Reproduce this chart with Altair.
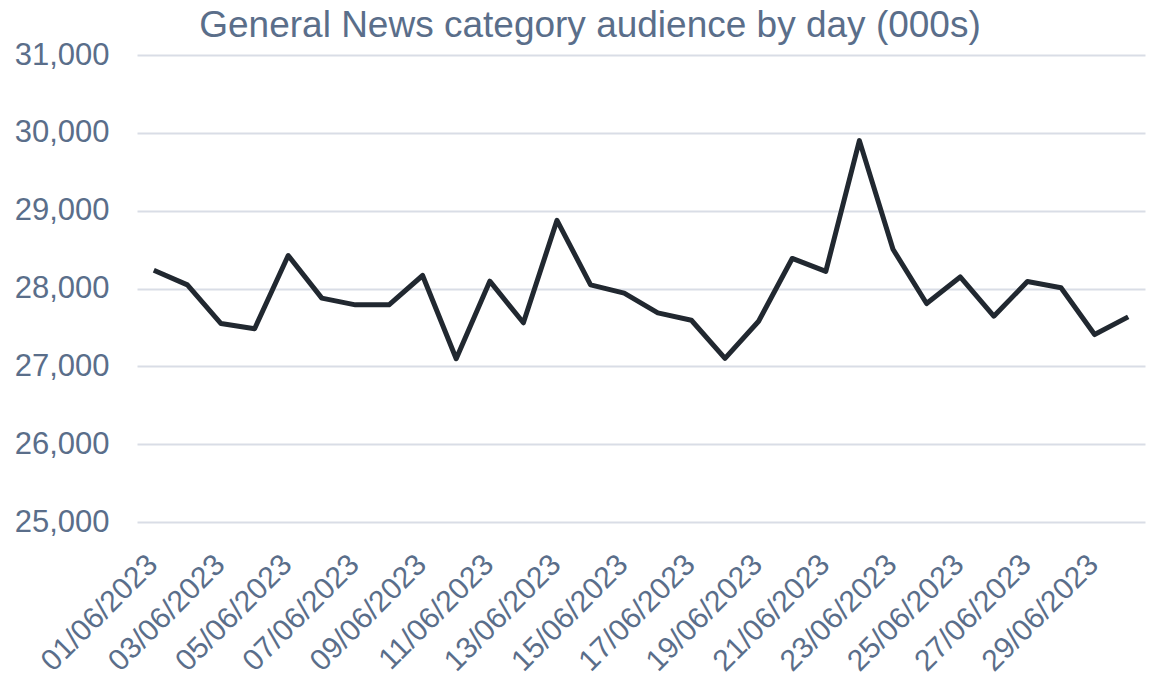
import altair as alt
import pandas as pd

dates = [f"{d:02d}/06/2023" for d in range(1, 31)]
audience = [28235, 28047, 27550, 27483, 28424, 27876, 27790, 27790, 28167, 27098,
            28094, 27560, 28876, 28047, 27940, 27687, 27592, 27103, 27579, 28386,
            28220, 29900, 28504, 27807, 28148, 27644, 28089, 28009, 27408, 27635]
label_dates = dates[::2]
y_ticks = [25000, 26000, 27000, 28000, 29000, 30000, 31000]

df = pd.DataFrame({"date": dates, "audience": audience})

TEXT = "#5a6e8a"
FONT = "Liberation Sans"

chart = alt.Chart(df).mark_line(color="#212830", strokeWidth=5, strokeJoin="round").encode(
    x=alt.X("date:O", sort=None, title=None,
            scale=alt.Scale(type="point", padding=0.5),
            axis=alt.Axis(values=label_dates, labelAngle=-45, labelFontSize=30,
                          labelColor=TEXT, labelFont=FONT, ticks=False, domain=False,
                          grid=False, labelPadding=27, labelOffset=-12)),
    y=alt.Y("audience:Q", title=None,
            scale=alt.Scale(domain=[25000, 31000], nice=False, zero=False),
            axis=alt.Axis(values=y_ticks, format=",.0f", labelFontSize=31, labelColor=TEXT,
                          labelFont=FONT, ticks=False, domain=False, labelPadding=28,
                          gridColor="#d9dde6", gridWidth=2)),
).properties(
    width=1008, height=467,
    title=alt.TitleParams("General News category audience by day (000s)", fontSize=37,
                          font=FONT, color=TEXT, fontWeight="normal", anchor="middle",
                          dx=-51, dy=6, offset=0),
    autosize=alt.AutoSizeParams(type="none"),
    padding={"left": 137, "top": 55, "right": 6, "bottom": 159},
).configure_view(stroke=None)

chart.save("out.html", embed_options={"renderer": "svg", "actions": False})
